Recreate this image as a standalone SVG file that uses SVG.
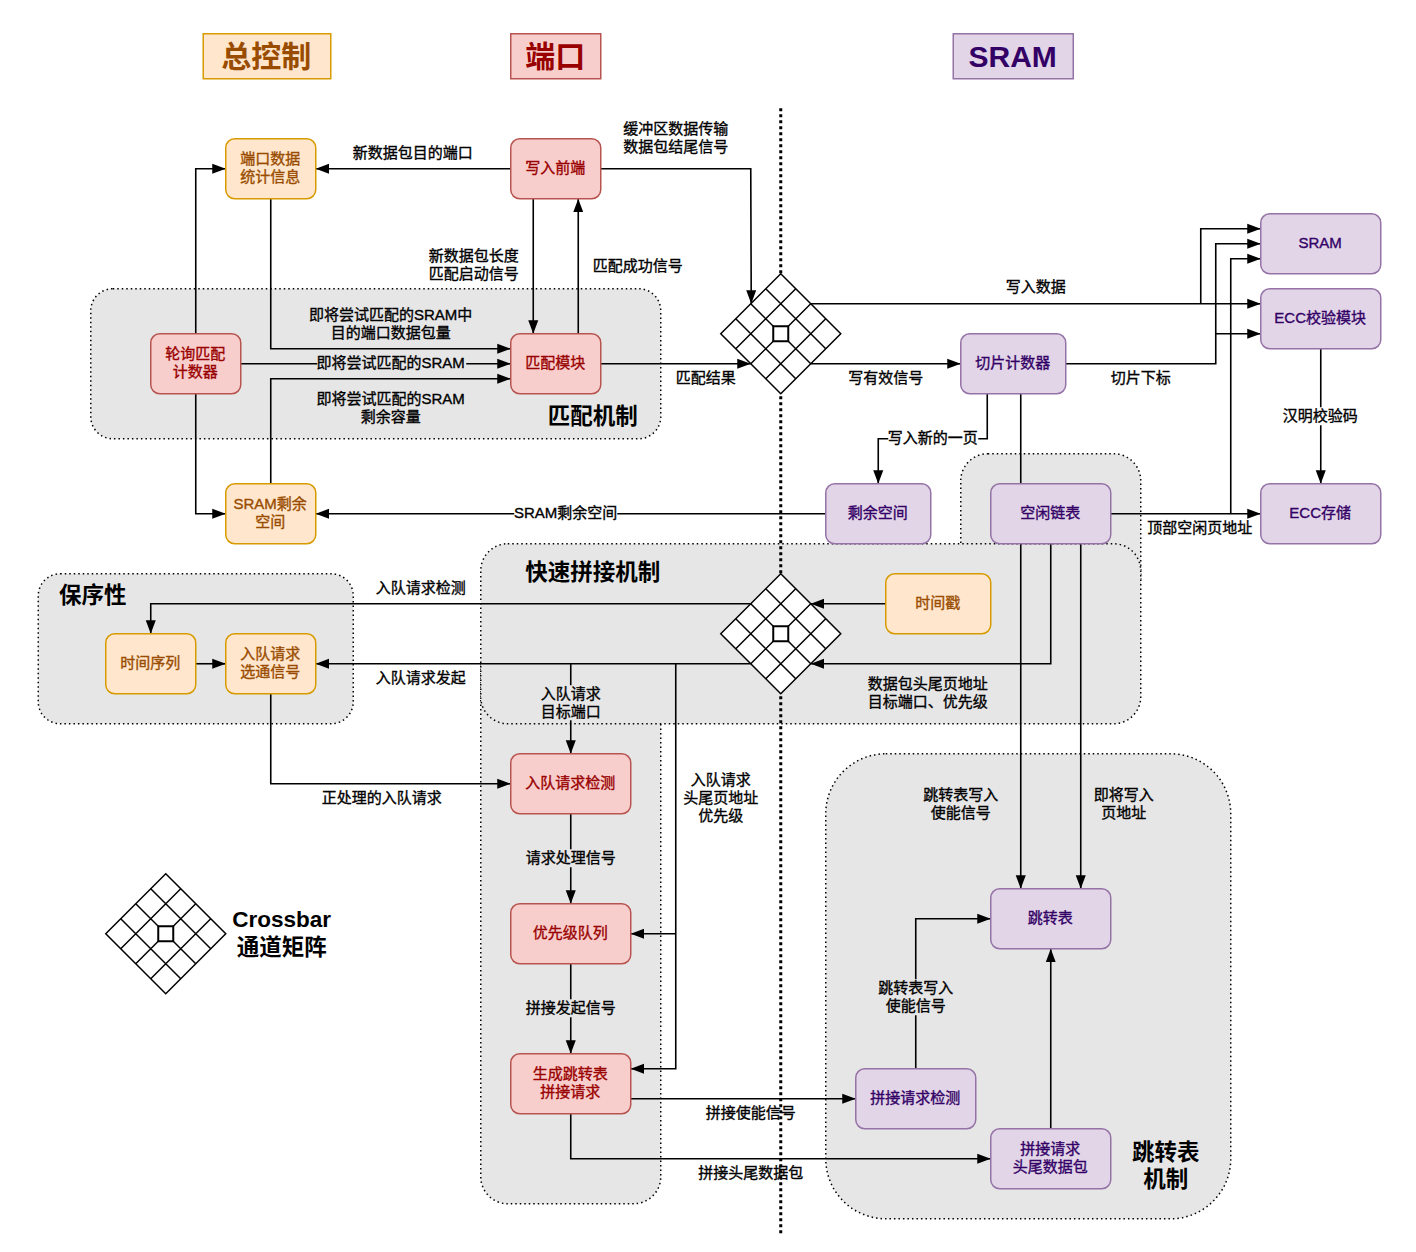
<svg xmlns="http://www.w3.org/2000/svg" width="1416" height="1252" viewBox="0 0 1416 1252">
<style>
text{font-family:"Liberation Sans","Noto Sans CJK SC",sans-serif;font-size:15px;text-anchor:middle;fill:#000;stroke:#000;stroke-width:.35;transform:translate(-.6px,0)}
.grp{fill:#e6e6e6;stroke:#000;stroke-width:1.5;stroke-dasharray:1.5 3}
.o rect{fill:#ffe6cc;stroke:#d79b00;stroke-width:1.5}.o text{fill:#994c00;stroke:#994c00}
.r rect{fill:#f8cecc;stroke:#b85450;stroke-width:1.5}.r text{fill:#990000;stroke:#990000}
.p rect{fill:#e1d5e7;stroke:#9673a6;stroke-width:1.5}.p text{fill:#330066;stroke:#330066}
.ttl text{font-size:30px;font-weight:700;stroke:none}
.big{font-size:22.5px;font-weight:700;stroke:none}
.c path{fill:none;stroke:#000;stroke-width:1.6}
.c path.a{marker-end:url(#arr)}
.lg{fill:#e6e6e6}.lw{fill:#fff}
.x path{fill:none;stroke:#000;stroke-width:1.5}
.x rect{fill:#fff;stroke:#000;stroke-width:2}
.x polygon{fill:#fff;stroke:#000;stroke-width:1.5}
</style>
<defs>
<marker id="arr" markerUnits="userSpaceOnUse" markerWidth="15" markerHeight="12" refX="13.5" refY="5.5" orient="auto"><path d="M0,0.5L13.5,5.5L0,10.5Z" fill="#000"/></marker>
<g id="xbar" class="x"><polygon points="0,-60 60,0 0,60 -60,0"/><path d="M-15,-45L45,15M-30,-30L30,30M-45,-15L15,45M15,-45L-45,15M30,-30L-30,30M45,-15L-15,45"/><rect x="-7.5" y="-7.5" width="15" height="15"/></g>
</defs>
<g id="diagram" transform="translate(.25 .25)">
<g id="groups">
<rect class="grp" x="90.5" y="288.5" width="570" height="150" rx="22"/>
<rect class="grp" x="960.5" y="453.5" width="180" height="150" rx="27"/>
<rect class="grp" x="480.5" y="640" width="180" height="563.5" rx="27"/>
<rect class="grp" x="480.5" y="543.5" width="660" height="180" rx="27"/>
<rect class="grp" x="38" y="573.5" width="315" height="150" rx="22"/>
<rect class="grp" x="825.5" y="753.5" width="405" height="465" rx="60"/>
</g>
<path id="divider" d="M780.5,108V1233" fill="none" stroke="#000" stroke-width="3" stroke-dasharray="3 3"/>

<g id="connectors" class="c">
<path class="a" d="M510.5,168.5H315.5"/>
<path class="a" d="M195.5,333.5V168.5H225.5"/>
<path class="a" d="M195.5,393.5V513.5H225.5"/>
<path class="a" d="M270.5,198.5V348.5H510.5"/>
<path class="a" d="M240.5,363.5H510.5"/>
<path class="a" d="M270.5,483.5V378.5H510.5"/>
<path class="a" d="M533,198.5V333.5"/>
<path class="a" d="M578,333.5V198.5"/>
<path class="a" d="M600.5,168.5H750.5L751,303.5"/>
<path class="a" d="M600.5,363.5H750.5"/>
<path class="a" d="M810.5,303.5H1260.5"/>
<path class="a" d="M1200.5,303.5V228.5H1260.5"/>
<path class="a" d="M810.5,363.5H960.5"/>
<path class="a" d="M1065.5,363.5H1215.5V243.5H1260.5"/>
<path class="a" d="M1215.5,333.5H1260.5"/>
<path class="a" d="M1110.5,513.5H1260.5"/>
<path class="a" d="M1230.5,513.5V258.5H1260.5"/>
<path class="a" d="M1320.5,348.5V483.5"/>
<path class="a" d="M987,393.5V438.5H878V483.5"/>
<path class="a" d="M1020.5,393.5V888.5"/>
<path class="a" d="M1080.5,543.5V888.5"/>
<path class="a" d="M1050.5,543.5V663.5H810.5"/>
<path class="a" d="M825.5,513.5H315.5"/>
<path class="a" d="M885.5,603.5H810.5"/>
<path class="a" d="M750.5,603.5H150.5V633.5"/>
<path class="a" d="M750.5,663.5H315.5"/>
<path class="a" d="M195.5,663.5H225.5"/>
<path class="a" d="M270.5,693.5V783.5H510.5"/>
<path class="a" d="M570.5,663.5V753.5"/>
<path class="a" d="M675.5,663.5V1068.5H630.5"/>
<path class="a" d="M675.5,933.5H630.5"/>
<path class="a" d="M570.5,813.5V903.5"/>
<path class="a" d="M570.5,963.5V1053.5"/>
<path class="a" d="M630.5,1098.5H855.5"/>
<path class="a" d="M570.5,1113.5V1158.5H990.5"/>
<path class="a" d="M915.5,1068.5V918.5H990.5"/>
<path class="a" d="M1050.5,1128.5V948.5"/>
</g>

<g id="crossbars">
<use href="#xbar" x="780.5" y="333.5"/>
<use href="#xbar" x="780.5" y="633.5"/>
<use href="#xbar" x="165.5" y="933.5"/>
</g>

<g id="title-ctrl" class="o ttl"><rect x="203" y="33.5" width="127.5" height="45"/><text x="266.5" y="67">总控制</text></g>
<g id="title-port" class="r ttl"><rect x="510.5" y="33.5" width="90" height="45"/><text x="555.5" y="67">端口</text></g>
<g id="title-sram" class="p ttl"><rect x="953" y="33.5" width="120" height="45"/><text x="1013" y="67">SRAM</text></g>

<g id="n-portstat" class="o"><rect x="225.5" y="138.5" width="90" height="60" rx="9"/><text x="270.5" y="164">端口数据</text><text x="270.5" y="182">统计信息</text></g>
<g id="n-writefe" class="r"><rect x="510.5" y="138.5" width="90" height="60" rx="9"/><text x="555.5" y="173">写入前端</text></g>
<g id="n-rr" class="r"><rect x="150.5" y="333.5" width="90" height="60" rx="9"/><text x="195.5" y="359">轮询匹配</text><text x="195.5" y="377">计数器</text></g>
<g id="n-match" class="r"><rect x="510.5" y="333.5" width="90" height="60" rx="9"/><text x="555.5" y="368">匹配模块</text></g>
<g id="n-sramfree" class="o"><rect x="225.5" y="483.5" width="90" height="60" rx="9"/><text x="270.5" y="509">SRAM剩余</text><text x="270.5" y="527">空间</text></g>
<g id="n-slice" class="p"><rect x="960.5" y="333.5" width="105" height="60" rx="9"/><text x="1013" y="368">切片计数器</text></g>
<g id="n-sram" class="p"><rect x="1260.5" y="213.5" width="120" height="60" rx="9"/><text x="1320.5" y="248">SRAM</text></g>
<g id="n-ecc" class="p"><rect x="1260.5" y="288.5" width="120" height="60" rx="9"/><text x="1320.5" y="323">ECC校验模块</text></g>
<g id="n-eccs" class="p"><rect x="1260.5" y="483.5" width="120" height="60" rx="9"/><text x="1320.5" y="518">ECC存储</text></g>
<g id="n-space" class="p"><rect x="825.5" y="483.5" width="105" height="60" rx="9"/><text x="878" y="518">剩余空间</text></g>
<g id="n-freelist" class="p"><rect x="990.5" y="483.5" width="120" height="60" rx="9"/><text x="1050.5" y="518">空闲链表</text></g>
<g id="n-ts" class="o"><rect x="885.5" y="573.5" width="105" height="60" rx="9"/><text x="938" y="608">时间戳</text></g>
<g id="n-seq" class="o"><rect x="105.5" y="633.5" width="90" height="60" rx="9"/><text x="150.5" y="668">时间序列</text></g>
<g id="n-sel" class="o"><rect x="225.5" y="633.5" width="90" height="60" rx="9"/><text x="270.5" y="659">入队请求</text><text x="270.5" y="677">选通信号</text></g>
<g id="n-enq" class="r"><rect x="510.5" y="753.5" width="120" height="60" rx="9"/><text x="570.5" y="788">入队请求检测</text></g>
<g id="n-prio" class="r"><rect x="510.5" y="903.5" width="120" height="60" rx="9"/><text x="570.5" y="938">优先级队列</text></g>
<g id="n-gen" class="r"><rect x="510.5" y="1053.5" width="120" height="60" rx="9"/><text x="570.5" y="1079">生成跳转表</text><text x="570.5" y="1097">拼接请求</text></g>
<g id="n-jump" class="p"><rect x="990.5" y="888.5" width="120" height="60" rx="9"/><text x="1050.5" y="923">跳转表</text></g>
<g id="n-det" class="p"><rect x="855.5" y="1068.5" width="120" height="60" rx="9"/><text x="915.5" y="1103">拼接请求检测</text></g>
<g id="n-pkt" class="p"><rect x="990.5" y="1128.5" width="120" height="60" rx="9"/><text x="1050.5" y="1154">拼接请求</text><text x="1050.5" y="1172">头尾数据包</text></g>

<g id="label-bg">
<rect class="lg" x="317" y="355" width="149" height="17"/>
<rect class="lw" x="888" y="430" width="90" height="17"/>
<rect class="lw" x="1283" y="407" width="75" height="18"/>
<rect class="lw" x="514" y="505" width="103" height="17"/>
<rect class="lg" x="541" y="685" width="60" height="35"/>
<rect class="lg" x="526" y="849" width="90" height="18"/>
<rect class="lg" x="526" y="999" width="90" height="18"/>
<rect class="lg" x="878" y="979" width="75" height="36"/>
</g>
<g id="labels">
<text x="413" y="158">新数据包目的端口</text>
<text x="676" y="134">缓冲区数据传输</text><text x="676" y="152">数据包结尾信号</text>
<text x="474" y="261">新数据包长度</text><text x="474" y="279">匹配启动信号</text>
<text x="638" y="271">匹配成功信号</text>
<text x="391" y="320">即将尝试匹配的SRAM中</text><text x="391" y="338">目的端口数据包量</text>
<text x="391" y="368">即将尝试匹配的SRAM</text>
<text x="391" y="404">即将尝试匹配的SRAM</text><text x="391" y="422">剩余容量</text>
<text x="706" y="383">匹配结果</text>
<text x="886" y="383">写有效信号</text>
<text x="1036" y="292">写入数据</text>
<text x="1141" y="383">切片下标</text>
<text x="933" y="443">写入新的一页</text>
<text x="1320.5" y="421">汉明校验码</text>
<text x="566" y="518">SRAM剩余空间</text>
<text x="1200" y="533">顶部空闲页地址</text>
<text x="421" y="593">入队请求检测</text>
<text x="421" y="683">入队请求发起</text>
<text x="571" y="699">入队请求</text><text x="571" y="717">目标端口</text>
<text x="928" y="689">数据包头尾页地址</text><text x="928" y="707">目标端口、优先级</text>
<text x="721" y="785">入队请求</text><text x="721" y="803">头尾页地址</text><text x="721" y="821">优先级</text>
<text x="382" y="803">正处理的入队请求</text>
<text x="571" y="863">请求处理信号</text>
<text x="571" y="1013">拼接发起信号</text>
<text x="961" y="800">跳转表写入</text><text x="961" y="818">使能信号</text>
<text x="1124" y="800">即将写入</text><text x="1124" y="818">页地址</text>
<text x="916" y="993">跳转表写入</text><text x="916" y="1011">使能信号</text>
<text x="751" y="1118">拼接使能信号</text>
<text x="751" y="1178">拼接头尾数据包</text>
<text class="big" x="282" y="927">Crossbar</text><text class="big" x="282" y="955">通道矩阵</text>
<text class="big" x="593" y="424">匹配机制</text>
<text class="big" x="593" y="580">快速拼接机制</text>
<text class="big" x="93" y="603">保序性</text>
<text class="big" x="1166" y="1160">跳转表</text><text class="big" x="1166" y="1187">机制</text>
</g>
</g>
</svg>
